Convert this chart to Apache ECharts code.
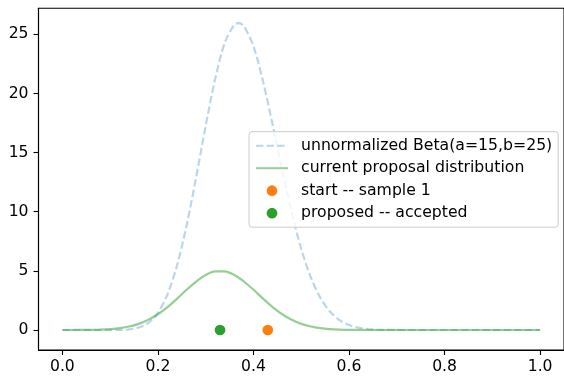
<!DOCTYPE html>
<html>
<head>
<meta charset="utf-8">
<script src="https://cdn.jsdelivr.net/npm/echarts@6/dist/echarts.min.js"></script>
<style>
html,body{margin:0;padding:0;background:#fff;}
#chart{width:564px;height:376px;}
</style>
</head>
<body>
<div id="chart"></div>
<script>
var xs = [0.00,0.02,0.04,0.06,0.08,0.10,0.12,0.14,0.16,0.18,0.20,0.22,0.24,0.26,0.28,0.30,0.32,0.34,0.36,0.37,0.38,0.40,0.42,0.44,0.46,0.48,0.50,0.52,0.54,0.56,0.58,0.60,0.62,0.64,0.66,0.68,0.70,0.72,0.74,0.76,0.78,0.80,0.82,0.84,0.86,0.88,0.90,0.92,0.94,0.96,0.98,1.00];
var betaVals = [0,0,0,0,0.0002,0.0015,0.011,0.056,0.21,0.60,1.46,3.02,5.47,8.84,12.92,17.27,21.26,24.29,25.82,25.95,25.69,23.98,21.03,17.37,13.53,9.92,6.85,4.46,2.72,1.56,0.83,0.42,0.19,0.08,0.03,0.011,0.004,0.001,0,0,0,0,0,0,0,0,0,0,0,0,0,0];
var proposalVals = [0.001,0.003,0.007,0.017,0.038,0.080,0.159,0.297,0.522,0.861,1.333,1.938,2.65,3.40,4.10,4.65,4.95,4.95,4.65,4.40,4.10,3.40,2.65,1.94,1.33,0.86,0.52,0.30,0.16,0.08,0.038,0.017,0.007,0.003,0.001,0,0,0,0,0,0,0,0,0,0,0,0,0,0,0,0,0];
var startX = [0.43];
var startY = [0];
var proposedX = [0.33];
var proposedY = [0];
var xTicks = [0.0,0.2,0.4,0.6,0.8,1.0];
var yTicks = [0,5,10,15,20,25];
var seriesNames = ['unnormalized Beta(a=15,b=25)','current proposal distribution','start -- sample 1','proposed -- accepted'];

function pairs(a,b){return a.map(function(v,i){return [v,b[i]];});}

var FONT = 'DejaVu Sans';
var chart = echarts.init(document.getElementById('chart'), null, {renderer:'canvas'});
chart.setOption({
  animation:false,
  backgroundColor:'#ffffff',
  grid:{left:38.5,right:-1.6,top:8.3,bottom:26,show:true,borderColor:'#000',borderWidth:1.1,backgroundColor:'transparent'},
  xAxis:{type:'value',min:-0.05,max:1.05,
    axisLine:{show:true,onZero:false,lineStyle:{color:'#000',width:1.1}},
    axisTick:{show:true,inside:false,length:5,lineStyle:{color:'#000',width:1.1},customValues:xTicks},
    axisLabel:{show:true,customValues:xTicks,margin:9,color:'#000',fontFamily:FONT,fontSize:15.6,formatter:function(v){return v.toFixed(1);}},
    splitLine:{show:false}},
  yAxis:{type:'value',min:-1.69,max:27.2,
    axisLine:{show:true,onZero:false,lineStyle:{color:'#000',width:1.1}},
    axisTick:{show:true,inside:false,length:5,lineStyle:{color:'#000',width:1.1},customValues:yTicks},
    axisLabel:{show:true,customValues:yTicks,margin:10,color:'#000',fontFamily:FONT,fontSize:15.6,formatter:function(v){return String(Math.round(v));}},
    splitLine:{show:false}},
  legend:{
    orient:'vertical',left:249,top:131.7,
    data:[
      {name:seriesNames[0],itemStyle:{opacity:0}},
      {name:seriesNames[1],itemStyle:{opacity:0}},
      {name:seriesNames[2]},
      {name:seriesNames[3]}
    ],
    itemWidth:32,itemHeight:10.7,itemGap:6.5,
    padding:[6,6,6,6],
    backgroundColor:'rgba(255,255,255,0.8)',borderColor:'#cccccc',borderWidth:1,borderRadius:3,
    textStyle:{fontFamily:FONT,fontSize:15.7,color:'#000',lineHeight:15,padding:[0,0,0,8]}
  },
  series:[
    {name:seriesNames[0],type:'line',data:pairs(xs,betaVals),symbol:'none',smooth:0.3,z:2,
      lineStyle:{color:'rgba(31,119,180,0.3)',width:2.2,type:[7.4,3.2]},itemStyle:{color:'rgba(31,119,180,0.3)'}},
    {name:seriesNames[1],type:'line',data:pairs(xs,proposalVals),symbol:'none',smooth:0.3,z:3,
      lineStyle:{color:'rgba(44,160,44,0.5)',width:2.2,type:'solid'},itemStyle:{color:'rgba(44,160,44,0.5)'}},
    {name:seriesNames[2],type:'scatter',data:pairs(startX,startY),symbol:'circle',symbolSize:10.7,z:4,
      itemStyle:{color:'#ff7f0e',opacity:1}},
    {name:seriesNames[3],type:'scatter',data:pairs(proposedX,proposedY),symbol:'circle',symbolSize:10.7,z:4,
      itemStyle:{color:'#2ca02c',opacity:1}}
  ]
});
</script>
</body>
</html>
